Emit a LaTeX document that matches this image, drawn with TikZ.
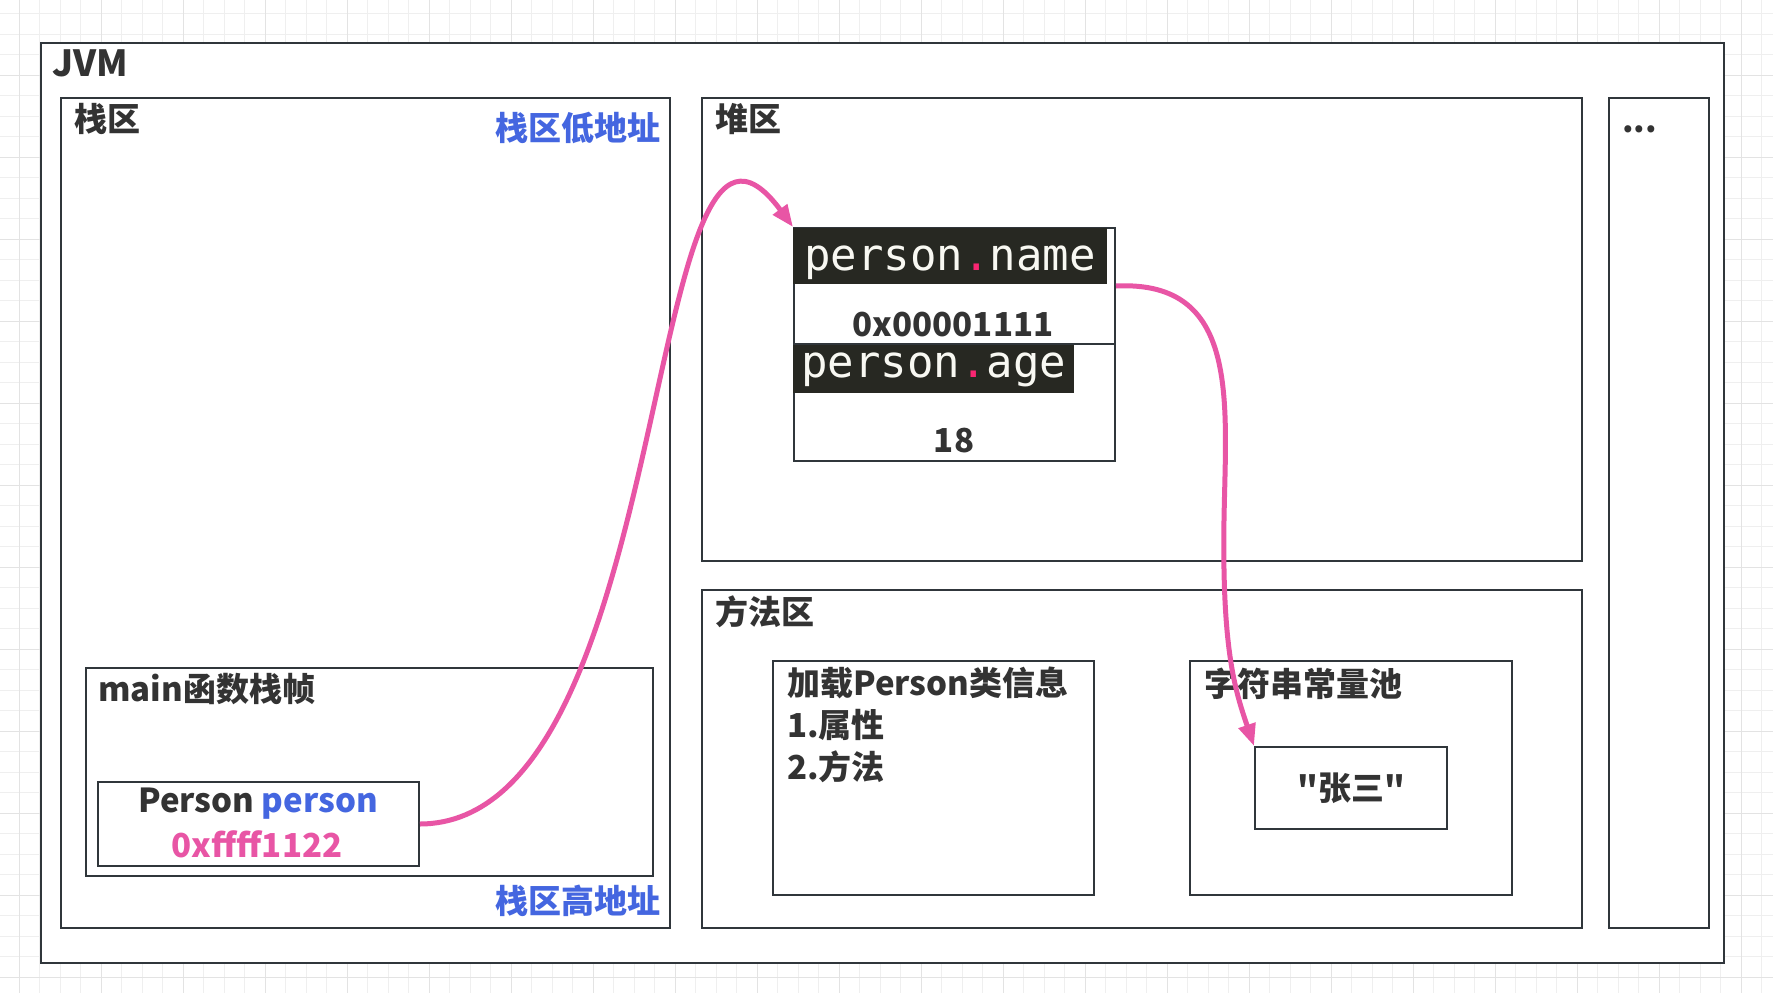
\documentclass[tikz,border=0pt]{standalone}
\usepackage{fontspec}
\setmainfont{Noto Sans CJK SC}
\newfontfamily\plainq{Noto Sans CJK SC}
\newfontfamily\monof{DejaVu Sans Mono}
\usetikzlibrary{arrows.meta}
\definecolor{txt}{HTML}{333333}
\definecolor{edge}{HTML}{30363B}
\definecolor{blu}{HTML}{4466E0}
\definecolor{pnk}{HTML}{E855A5}
\definecolor{codebg}{HTML}{272822}
\definecolor{codefg}{HTML}{F8F8F2}
\definecolor{codedot}{HTML}{F92672}
\definecolor{gridminor}{HTML}{EFEFEF}
\definecolor{gridmajor}{HTML}{E3E3E3}
\begin{document}
\begin{tikzpicture}[x=1pt,y=-1pt,
  box/.style={draw=edge, line width=2pt, fill=white, inner sep=0pt, anchor=north west},
  lbl/.style={font=\fontsize{33}{38}\selectfont\bfseries, text=txt, inner sep=0pt},
  blulbl/.style={lbl, text=blu},
  codelbl/.style={fill=codebg, text=codefg, inner ysep=0pt, anchor=north west, font=\fontsize{44}{50}\selectfont\monof},
  arr/.style={draw=pnk, line width=5pt, -{Triangle[length=22pt,width=17pt]}}
]
\useasboundingbox (0,0) rectangle (1773,993);
\fill[white] (0,0) rectangle (1773,993);
% background grid
\foreach \i in {0,...,87} {
  \pgfmathsetmacro\gx{19+\i*20.5}
  \draw[gridminor, line width=1pt] (\gx,0) -- (\gx,993);
}
\foreach \j in {0,...,49} {
  \pgfmathsetmacro\gy{13.5+\j*20.5}
  \draw[gridminor, line width=1pt] (0,\gy) -- (1773,\gy);
}
\foreach \i in {0,...,22} {
  \pgfmathsetmacro\gx{19+\i*82}
  \draw[gridmajor, line width=1pt] (\gx,0) -- (\gx,993);
}
\foreach \j in {0,...,12} {
  \pgfmathsetmacro\gy{75+\j*82}
  \draw[gridmajor, line width=1pt] (0,\gy) -- (1773,\gy);
}
% boxes
\node[box, minimum width=1683, minimum height=920] (jvm) at (40,42) {};
\node[box, minimum width=609, minimum height=830] (stack) at (60,97) {};
\node[box, minimum width=880, minimum height=463] (heap) at (701,97) {};
\node[box, minimum width=880, minimum height=338] (method) at (701,589) {};
\node[box, minimum width=100, minimum height=830] (other) at (1608,97) {};
\node[box, minimum width=567, minimum height=208] (frame) at (85,667) {};
\node[box, minimum width=321, minimum height=84] (pp) at (97,781) {};
\node[box, minimum width=321, minimum height=116] (nm) at (793,227) {};
\node[box, minimum width=321, minimum height=117] (ag) at (793,343) {};
\node[box, minimum width=321, minimum height=234] (cls) at (772,660) {};
\node[box, minimum width=322, minimum height=234] (pool) at (1189,660) {};
\node[box, minimum width=192, minimum height=82] (zs) at (1254,746) {};
% code labels
\node[codelbl, text height=42pt, text depth=14pt, inner xsep=11pt] (nmk) at (793,228) {person\textcolor{codedot}{.}name};
\node[codelbl, text height=32pt, text depth=16pt, inner xsep=8pt] (agk) at (793,345) {person\textcolor{codedot}{.}age};
% texts
\node[lbl, anchor=west, font=\fontsize{36}{40}\selectfont\bfseries] (tjvm) at (52,63) {JVM};
\node[lbl, anchor=west] (tstack) at (74,119) {栈区};
\node[blulbl, anchor=east] (tlow) at (661,128) {栈区低地址};
\node[blulbl, anchor=east] (thigh) at (661,901) {栈区高地址};
\node[lbl, anchor=west] (theap) at (715,119) {堆区};
\node[lbl, anchor=west] (tmethod) at (715,612) {方法区};
\node[lbl, anchor=west] (tother) at (1622,129) {...};
\node[lbl, anchor=west] (tframe) at (98,689) {main函数栈帧};
\node[lbl] (tpp) at (258,804) {Person \textcolor{blu}{person}};
\node[lbl, text=pnk] (taddr) at (257,844) {0xffff1122};
\node[lbl] (tnm) at (953,325) {0x00001111};
\node[lbl] (tag) at (954,441) {18};
\node[lbl, anchor=west] (tcls1) at (787,683) {加载Person类信息};
\node[lbl, anchor=west] (tcls2) at (787,725) {1.属性};
\node[lbl, anchor=west] (tcls3) at (787,767) {2.方法};
\node[lbl, anchor=west] (tpool) at (1204,684) {字符串常量池};
\node[lbl] (tzs) at (zs.center) {{\plainq\bfseries"}张三{\plainq\bfseries"}};
% arrows
\draw[arr] (pp.east) .. controls (680,823) and (640,20) .. (nm.north west);
\coordinate (mid) at (1224,520);
\draw[arr] (nm.east) .. controls (1240,280) and (1226,400) .. (mid) .. controls (1222,650) and (1235,690) .. (zs.north west);
\end{tikzpicture}
\end{document}
